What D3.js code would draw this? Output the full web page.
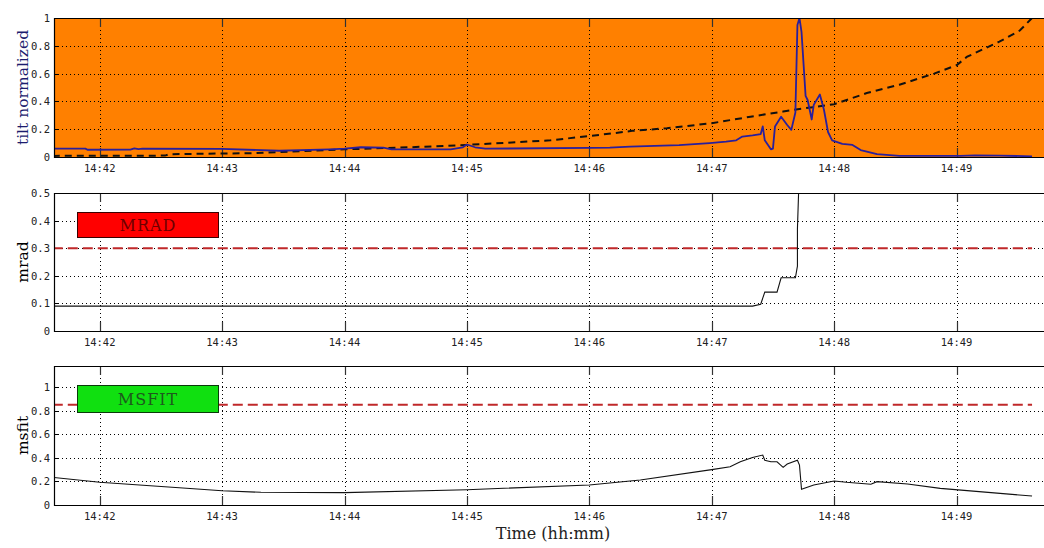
<!DOCTYPE html>
<html><head><meta charset="utf-8">
<script src="https://cdn.jsdelivr.net/npm/d3@7"></script>
<style>body{margin:0;background:#fff}svg{display:block}</style>
</head><body><svg id="c" width="1044" height="548"></svg>
<script>
// ---------- data ----------
const xDomain = ["14:41:37.600", "14:49:45.800"];
const xTickLabels = ["14:42","14:43","14:44","14:45","14:46","14:47","14:48","14:49"];

const tiltTime = ["14:41:37","14:41:53","14:41:54","14:42:15","14:42:17","14:42:19","14:42:21","14:43:00","14:43:28","14:43:53","14:44:00","14:44:08","14:44:19","14:44:23","14:44:52","14:44:58","14:45:00","14:45:04","14:45:09","14:46:00","14:46:10","14:46:20","14:46:44","14:46:59","14:47:07","14:47:12","14:47:15","14:47:20","14:47:24","14:47:25","14:47:26","14:47:29","14:47:30","14:47:31","14:47:34","14:47:37","14:47:39","14:47:41","14:47:42","14:47:43","14:47:44","14:47:46","14:47:47","14:47:49","14:47:50","14:47:53","14:47:55","14:47:57","14:47:59","14:48:04","14:48:09","14:48:13","14:48:21","14:48:32","14:49:02","14:49:09","14:49:21","14:49:37"];
const tiltValue = [0.06,0.06,0.052,0.053,0.062,0.057,0.06,0.058,0.045,0.055,0.06,0.07,0.068,0.055,0.055,0.07,0.09,0.07,0.06,0.065,0.067,0.075,0.085,0.1,0.11,0.12,0.147,0.155,0.165,0.22,0.12,0.055,0.06,0.22,0.29,0.23,0.195,0.32,0.95,1.0,0.9,0.44,0.41,0.27,0.375,0.45,0.34,0.18,0.12,0.094,0.087,0.05,0.02,0.008,0.008,0.012,0.01,0.005];

const refTime = ["14:41:37","14:42:32","14:42:34","14:43:00","14:43:14","14:44:00","14:44:32","14:45:00","14:45:41","14:46:05","14:46:21","14:46:38","14:47:00","14:47:19","14:47:35","14:47:43","14:48:00","14:48:16","14:48:32","14:48:49","14:49:00","14:49:05","14:49:21","14:49:31","14:49:37"];
const refValue = [0.008,0.01,0.02,0.025,0.027,0.055,0.07,0.087,0.12,0.159,0.188,0.207,0.243,0.29,0.327,0.345,0.38,0.46,0.52,0.6,0.66,0.72,0.83,0.91,1.0];

const mradTime = ["14:41:37","14:47:20","14:47:24","14:47:26","14:47:32","14:47:34","14:47:41","14:47:42","14:47:42","14:47:43","14:49:37"];
const mradValue = [0.09,0.09,0.097,0.141,0.141,0.193,0.193,0.235,0.37,0.6,0.6];

const msfitTime = ["14:41:37","14:42:00","14:42:39","14:43:00","14:43:19","14:44:00","14:45:00","14:46:00","14:46:25","14:47:00","14:47:09","14:47:14","14:47:20","14:47:25","14:47:26","14:47:29","14:47:32","14:47:35","14:47:37","14:47:42","14:47:43","14:47:44","14:47:50","14:48:00","14:48:06","14:48:18","14:48:21","14:48:36","14:48:52","14:49:37"];
const msfitValue = [0.235,0.193,0.147,0.121,0.108,0.105,0.13,0.17,0.212,0.3,0.325,0.367,0.404,0.424,0.38,0.367,0.367,0.32,0.348,0.38,0.339,0.133,0.17,0.204,0.193,0.176,0.198,0.178,0.141,0.076];

const thresholdStart = "14:41:37";
const thresholdEnd = "14:49:37";
const mradThreshold = 0.3;
const msfitThreshold = 0.85;

const tiltTicks = [0,0.2,0.4,0.6,0.8,1];
const mradTicks = [0,0.1,0.2,0.3,0.4,0.5];
const msfitTicks = [0,0.2,0.4,0.6,0.8,1];
const tiltDomain = [0,1];
const mradDomain = [0,0.5];
const msfitDomain = [0,1.18];

// ---------- helpers ----------
const pMs = d3.timeParse("%H:%M:%S.%L"), pS = d3.timeParse("%H:%M:%S"), pM = d3.timeParse("%H:%M");
const parse = s => pMs(s) || pS(s) || pM(s);
const zip = (t, v) => t.map((d, i) => ({t: parse(d), v: v[i]}));

const svg = d3.select("#c");
const L = 54, R = 1050;
const x = d3.scaleTime().domain(xDomain.map(parse)).range([L, R]);
const xTicks = xTickLabels.map(parse);
const tickFont = "'DejaVu Sans Mono', monospace";
const serif = "'DejaVu Serif', serif";

const panels = [
  {top: 18, bottom: 157, dom: tiltDomain, ticks: tiltTicks, bg: "#ff8000", title: "tilt normalized", titleColor: "#1c1c6e"},
  {top: 193, bottom: 331, dom: mradDomain, ticks: mradTicks, bg: "#ffffff", title: "mrad", titleColor: "#000"},
  {top: 366, bottom: 505, dom: msfitDomain, ticks: msfitTicks, bg: "#ffffff", title: "msfit", titleColor: "#000"}
];

panels.forEach((p, i) => {
  p.y = d3.scaleLinear().domain(p.dom).range([p.bottom, p.top]);
  const g = svg.append("g");
  p.g = g;
  g.append("clipPath").attr("id", "clip" + i).append("rect")
    .attr("x", L).attr("y", p.top).attr("width", R - L).attr("height", p.bottom - p.top);
  g.append("rect").attr("x", L).attr("y", p.top).attr("width", R - L).attr("height", p.bottom - p.top)
    .attr("fill", p.bg);
  // horizontal grid
  g.selectAll(".hg").data(p.ticks.filter(t => t > p.dom[0] && t < p.dom[1])).join("line")
    .attr("x1", L).attr("x2", R).attr("y1", d => Math.round(p.y(d)) + 0.5).attr("y2", d => Math.round(p.y(d)) + 0.5)
    .attr("stroke", "#000").attr("stroke-width", 1).attr("stroke-dasharray", "1,3");
  // vertical grid
  g.selectAll(".vg").data(xTicks).join("line")
    .attr("x1", d => Math.round(x(d)) + 0.5).attr("x2", d => Math.round(x(d)) + 0.5)
    .attr("y1", p.top).attr("y2", p.bottom)
    .attr("stroke", "#000").attr("stroke-width", 1).attr("stroke-dasharray", "1,3");
  // x tick marks (top & bottom, inward)
  g.selectAll(".xt").data(xTicks).join("path")
    .attr("d", d => { const xx = Math.round(x(d)) + 0.5; return `M${xx},${p.top}v9M${xx},${p.bottom}v-9`; })
    .attr("stroke", "#333").attr("stroke-width", 1.2);
  // y tick marks
  g.selectAll(".yt").data(p.ticks).join("line")
    .attr("x1", L).attr("x2", L + 5).attr("y1", d => Math.round(p.y(d)) + 0.5).attr("y2", d => Math.round(p.y(d)) + 0.5)
    .attr("stroke", "#000");
  // x tick labels
  g.selectAll(".xl").data(xTicks).join("text")
    .attr("x", d => x(d)).attr("y", p.bottom + 15)
    .attr("text-anchor", "middle").attr("font-family", tickFont).attr("font-size", 10.5).attr("fill", "#222")
    .text((d, j) => xTickLabels[j]);
  // y tick labels
  g.selectAll(".yl").data(p.ticks).join("text")
    .attr("x", 50).attr("y", d => p.y(d) + 4)
    .attr("text-anchor", "end").attr("font-family", tickFont).attr("font-size", 10.5).attr("fill", "#222")
    .text(d => d3.format("~g")(d));
  // y title
  g.append("text").attr("transform", `translate(28,${(p.top + p.bottom) / 2}) rotate(-90)`)
    .attr("text-anchor", "middle").attr("font-family", serif).attr("font-size", 15.5)
    .attr("fill", p.titleColor).text(p.title);
  p.plot = g.append("g").attr("clip-path", `url(#clip${i})`);
});

const lineGen = y => d3.line().x(d => x(d.t)).y(d => y(d.v));

// panel 1
const p1 = panels[0];
p1.plot.append("path").datum(zip(refTime, refValue)).attr("d", lineGen(p1.y))
  .attr("fill", "none").attr("stroke", "#111").attr("stroke-width", 2).attr("stroke-dasharray", "7,5");
p1.plot.append("path").datum(zip(tiltTime, tiltValue)).attr("d", lineGen(p1.y))
  .attr("fill", "none").attr("stroke", "#2a1f9c").attr("stroke-width", 1.8).attr("stroke-linejoin", "round");

// panel 2
const p2 = panels[1];
p2.plot.append("path").datum([{t: parse(thresholdStart), v: mradThreshold}, {t: parse(thresholdEnd), v: mradThreshold}])
  .attr("d", lineGen(p2.y)).attr("fill", "none").attr("stroke", "#c0282a").attr("stroke-width", 2).attr("stroke-dasharray", "10,5");
p2.plot.append("path").datum(zip(mradTime, mradValue)).attr("d", lineGen(p2.y))
  .attr("fill", "none").attr("stroke", "#111").attr("stroke-width", 1.1);

// panel 3
const p3 = panels[2];
p3.plot.append("path").datum([{t: parse(thresholdStart), v: msfitThreshold}, {t: parse(thresholdEnd), v: msfitThreshold}])
  .attr("d", lineGen(p3.y)).attr("fill", "none").attr("stroke", "#c0282a").attr("stroke-width", 2).attr("stroke-dasharray", "10,5");
p3.plot.append("path").datum(zip(msfitTime, msfitValue)).attr("d", lineGen(p3.y))
  .attr("fill", "none").attr("stroke", "#111").attr("stroke-width", 1.1);

// legend boxes
const boxes = [
  {p: p2, label: "MRAD", fill: "#ff0000", stroke: "#3a0000", color: "#6e0000", top: 212, h: 25},
  {p: p3, label: "MSFIT", fill: "#10e010", stroke: "#0a3a0a", color: "#1d5a1d", top: 385, h: 27}
];
boxes.forEach(b => {
  b.p.g.append("rect").attr("x", 77.5).attr("y", b.top + 0.5).attr("width", 141).attr("height", b.h)
    .attr("fill", b.fill).attr("stroke", b.stroke).attr("stroke-width", 1);
  b.p.g.append("text").attr("x", 148).attr("y", b.top + b.h / 2 + 6)
    .attr("text-anchor", "middle").attr("font-family", serif).attr("font-size", 16)
    .attr("letter-spacing", 1).attr("fill", b.color).text(b.label);
});

// frames (top, left, bottom)
panels.forEach(p => {
  p.g.append("path").attr("d", `M${R},${p.top + 0.5}H${L + 0.5}V${p.bottom + 0.5}H${R}`)
    .attr("fill", "none").attr("stroke", "#000").attr("stroke-width", 1.2);
});

// x axis title
svg.append("text").attr("x", 553).attr("y", 539).attr("text-anchor", "middle")
  .attr("font-family", serif).attr("font-size", 16).attr("fill", "#222").text("Time (hh:mm)");
</script></body></html>
